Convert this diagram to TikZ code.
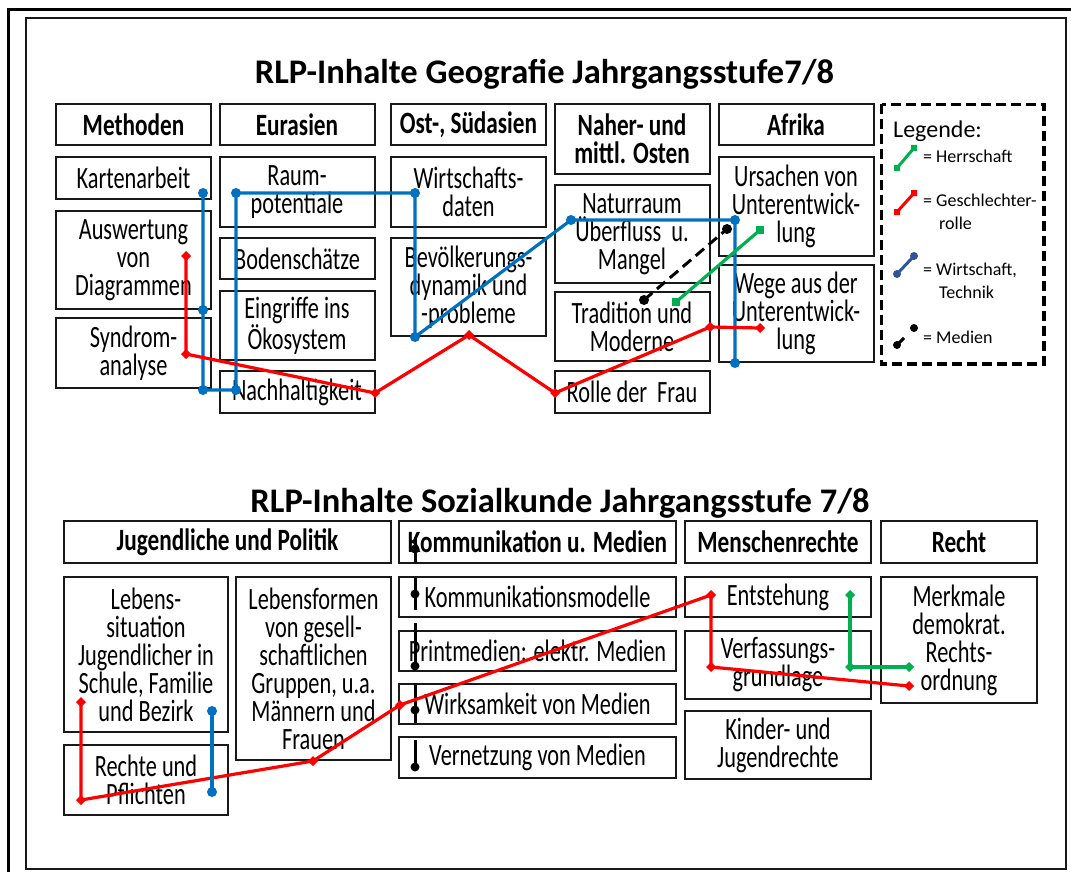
\documentclass[tikz,border=0pt]{standalone}
\usepackage{fontspec}
\setmainfont{Carlito}[FakeStretch=0.72]
\newfontfamily\headfont{Carlito}[FakeStretch=0.75]
\newfontfamily\widefont{Carlito}
\usetikzlibrary{calc}
\definecolor{wirtblue}{HTML}{0070C0}
\definecolor{legblue}{HTML}{2F5597}
\definecolor{herrgreen}{HTML}{00B050}
\definecolor{rollred}{HTML}{FF0000}

\begin{document}
\begin{tikzpicture}[x=1pt,y=-1pt,
 box/.style={draw=black!90, line width=2pt, inner sep=0pt, minimum width=155pt, align=center, font=\fontsize{31}{28}\selectfont},
 head/.style={box, font=\headfont\fontsize{31}{28}\selectfont\bfseries},
 titel/.style={anchor=base, inner sep=0pt, font=\widefont\fontsize{34.5}{38}\selectfont\bfseries},
 legtext/.style={anchor=west, inner sep=0pt, align=left, font=\widefont\fontsize{18}{23}\selectfont},
 wirtline/.style={wirtblue, line width=3.2pt},
 rollline/.style={rollred, line width=3.2pt},
 herrline/.style={herrgreen, line width=3.2pt},
 medline/.style={black, line width=3pt}]
\useasboundingbox (0,0) rectangle (1071,872);

% frames
\draw[line width=3.5pt] (8.5,872) -- (8.5,9.5) -- (1071,9.5);
\draw[line width=2pt, black!90] (26,18) rectangle (1066,869);

% Geografie
\node[titel] (geotitel) at (544.5,84) {RLP-Inhalte Geografie Jahrgangsstufe7/8};

\node[head, minimum height=41pt] (meth) at (133.5,124.5) {Methoden};
\node[head, minimum height=41pt] (eura) at (297,124.5) {Eurasien};
\node[head, minimum height=41pt] (ostas) at (468.5,124.5) {Ost-, Südasien};
\node[head, minimum height=70pt] (naher) at (632,139) {Naher- und\\mittl. Osten};
\node[head, minimum height=41pt] (afrika) at (796,124.5) {Afrika};

\node[box, minimum height=42pt] (karte) at (133.5,178) {Kartenarbeit};
\node[box, minimum height=98pt] (ausw) at (133.5,260) {Auswertung\\von\\Diagrammen};
\node[box, minimum height=70pt] (syndrom) at (133.5,353) {Syndrom-\\analyse};

\node[box, minimum height=70pt] (raum) at (297,192) {Raum-\\potentiale};
\node[box, minimum height=41pt] (boden) at (297,258.5) {Bodenschätze};
\node[box, minimum height=69pt] (eingr) at (297,325.5) {Eingriffe ins\\Ökosystem};
\node[box, minimum height=42pt] (nachh) at (297,392) {Nachhaltigkeit};

\node[box, minimum height=70pt] (wirt) at (468.5,192) {Wirtschafts-\\daten};
\node[box, minimum height=98pt] (bevoelk) at (468.5,287) {Bevölkerungs-\\dynamik und\\-probleme};

\node[box, minimum height=98pt] (natur) at (632,234) {Naturraum\\Überfluss\ \ u.\\Mangel};
\node[box, minimum height=69pt] (trad) at (632,326.5) {Tradition und\\Moderne};
\node[box, minimum height=42pt] (rolle) at (632,392) {Rolle der\ \ Frau};

\node[box, minimum height=99pt] (ursach) at (796,206.5) {Ursachen von\\Unterentwick-\\lung};
\node[box, minimum height=97pt] (wege) at (796,313.5) {Wege aus der\\Unterentwick-\\lung};

% Legende
\draw[line width=3.5pt, dash pattern=on 10pt off 5pt] (881.5,104.5) rectangle (1044,364);
\node[anchor=base west, inner sep=0pt, font=\widefont\fontsize{24}{28}\selectfont] (legende) at (893,138) {Legende:};
\draw[herrgreen, line width=3pt] (897,168) -- (914,148);
\fill[herrgreen] (897,168) +(-3,-3) rectangle +(3,3) (914,148) +(-3,-3) rectangle +(3,3);
\node[legtext] (leg1) at (923,156) {= Herrschaft};
\draw[rollred, line width=3pt] (897,212) -- (914,193);
\fill[rollred] (897,212) +(-3,-3) rectangle +(3,3) (914,193) +(-3,-3) rectangle +(3,3);
\node[legtext] (leg2) at (923,212) {= Geschlechter-\\\hspace*{16pt}rolle};
\draw[legblue, line width=3pt] (897,274) -- (914,256);
\fill[legblue] (897,274) circle (4) (914,256) circle (4);
\node[legtext] (leg3) at (923,281) {= Wirtschaft,\\\hspace*{16pt}Technik};
\draw[black, line width=3pt] (897,345) -- (904,338);
\fill[black] (897,345) circle (4) (914,328) circle (4);
\node[legtext] (leg4) at (923,337) {= Medien};

% Verbindungen Geografie
\coordinate (wa1) at (203,193);
\coordinate (wa2) at (203,310);
\coordinate (wa3) at (203,390);
\coordinate (wa4) at (236,390);
\coordinate (wa5) at (236,193);
\coordinate (wa6) at (415,193);
\coordinate (wa7) at (415,337);
\coordinate (wa8) at (571,220);
\coordinate (wa9) at (735,220);
\coordinate (wa10) at (735,363);
\draw[wirtline] (wa1) -- (wa2) -- (wa3) -- (wa4) -- (wa5) -- (wa6) -- (wa7) -- (wa8) -- (wa9) -- (wa10);
\foreach \i in {1,...,10} \fill[wirtblue] (wa\i) circle (5);

\coordinate (ga1) at (186,256);
\coordinate (ga2) at (186,354);
\coordinate (ga3) at (375,393);
\coordinate (ga4) at (469,335);
\coordinate (ga5) at (555,393);
\coordinate (ga6) at (710,327);
\coordinate (ga7) at (760,328);
\draw[rollline] (ga1) -- (ga2) -- (ga3) -- (ga4) -- (ga5) -- (ga6) -- (ga7);
\foreach \i in {1,...,7} \fill[rollred] (ga\i) +(0,-5) -- +(5,0) -- +(0,5) -- +(-5,0) -- cycle;

\coordinate (ha1) at (676,302);
\coordinate (ha2) at (760,230);
\draw[herrline] (ha1) -- (ha2);
\foreach \i in {1,2} \fill[herrgreen] (ha\i) +(-4,-4) rectangle +(4,4);

\coordinate (ma1) at (644,300);
\coordinate (ma2) at (727,229);
\draw[medline, dash pattern=on 11pt off 6pt] (ma1) -- (ma2);
\foreach \i in {1,2} \fill[black] (ma\i) circle (5);

% Sozialkunde
\node[titel] (sktitel) at (560,512) {RLP-Inhalte Sozialkunde Jahrgangsstufe 7/8};

\node[head, minimum width=327pt, minimum height=42pt] (jugpol) at (227.5,542) {Jugendliche und Politik};
\node[head, minimum width=277pt, minimum height=42pt] (kommed) at (537.5,542) {Kommunikation u. Medien};
\node[head, minimum width=186pt, minimum height=42pt] (menschr) at (778,542) {Menschenrechte};
\node[head, minimum width=156pt, minimum height=42pt] (recht) at (959,542) {Recht};

\node[box, minimum width=164pt, minimum height=155pt] (lebsit) at (146,654.5) {Lebens-\\situation\\Jugendlicher in\\Schule, Familie\\und Bezirk};
\node[box, minimum width=164pt, minimum height=70pt] (rechte) at (146,780) {Rechte und\\Pflichten};
\node[box, minimum height=183pt] (lebform) at (313.5,668.5) {Lebensformen\\von gesell-\\schaftlichen\\Gruppen, u.a.\\Männern und\\Frauen};

\node[box, minimum width=277pt, minimum height=40pt] (kommod) at (537.5,597) {Kommunikationsmodelle};
\node[box, minimum width=277pt, minimum height=40pt] (print) at (537.5,651) {Printmedien: elektr. Medien};
\node[box, minimum width=277pt, minimum height=40pt] (wirks) at (537.5,704) {Wirksamkeit von Medien};
\node[box, minimum width=277pt, minimum height=41pt] (vernetz) at (537.5,757.5) {Vernetzung von Medien};

\node[box, minimum width=186pt, minimum height=40pt] (entst) at (778,597) {Entstehung};
\node[box, minimum width=186pt, minimum height=68pt] (verf) at (778,665) {Verfassungs-\\grundlage};
\node[box, minimum width=186pt, minimum height=68pt] (kinder) at (778,745) {Kinder- und\\Jugendrechte};

\node[box, minimum width=156pt, minimum height=126pt] (merkm) at (959,640) {Merkmale\\demokrat.\\Rechts-\\ordnung};

% Verbindungen Sozialkunde
\coordinate (mb0) at (415,537);
\coordinate (mb1) at (415,549);
\coordinate (mb2) at (415,594);
\coordinate (mb3) at (415,666);
\coordinate (mb4) at (415,710);
\coordinate (mb5) at (415,767);
\draw[medline, dash pattern=on 26pt off 15pt on 32pt off 13pt on 47pt off 13pt on 40pt off 17pt on 40pt] (mb0) -- (mb5);
\foreach \i in {1,...,5} \fill[black] (mb\i) circle (4.5);

\coordinate (gb1) at (81,702);
\coordinate (gb2) at (81,800);
\coordinate (gb3) at (313,761);
\coordinate (gb4) at (400,705);
\coordinate (gb5) at (711,595);
\coordinate (gb6) at (711,667);
\coordinate (gb7) at (909,686);
\draw[rollline] (gb1) -- (gb2) -- (gb3) -- (gb4) -- (gb5) -- (gb6) -- (gb7);
\foreach \i in {1,...,7} \fill[rollred] (gb\i) +(0,-5) -- +(5,0) -- +(0,5) -- +(-5,0) -- cycle;

\coordinate (wb1) at (212,711);
\coordinate (wb2) at (212,792);
\draw[wirtline] (wb1) -- (wb2);
\foreach \i in {1,2} \fill[wirtblue] (wb\i) circle (5);

\coordinate (hb1) at (850,595);
\coordinate (hb2) at (850,667);
\coordinate (hb3) at (909,667);
\draw[herrline] (hb1) -- (hb2) -- (hb3);
\foreach \i in {1,2,3} \fill[herrgreen] (hb\i) +(0,-5) -- +(5,0) -- +(0,5) -- +(-5,0) -- cycle;
\end{tikzpicture}
\end{document}
